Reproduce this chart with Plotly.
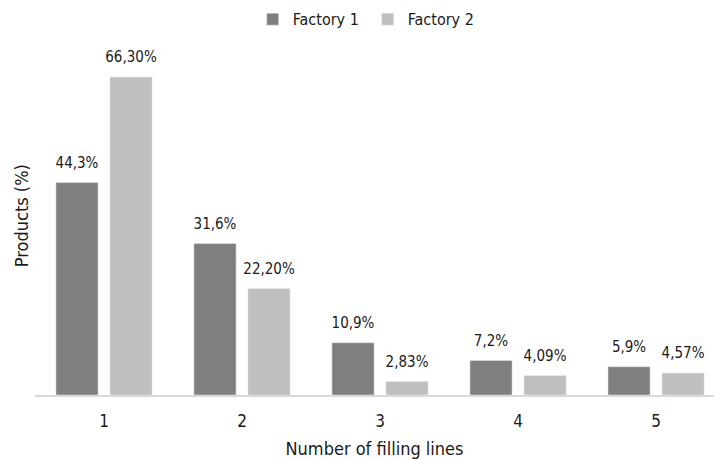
import plotly.graph_objects as go

# Share of products by number of filling lines
categories = ["1", "2", "3", "4", "5"]
factory1 = [44.3, 31.6, 10.9, 7.2, 5.9]
factory2 = [66.30, 22.20, 2.83, 4.09, 4.57]

FONT = "DejaVu Sans Condensed, Liberation Sans Narrow, sans-serif"
TEXT = "#1a1a1a"


def fmt(v, decimals):
    return f"{v:.{decimals}f}".replace(".", ",") + "%"


x_pos = list(range(1, len(categories) + 1))
series = [
    ("Factory 1", factory1, "#7f7f7f", 1),
    ("Factory 2", factory2, "#bfbfbf", 2),
]

fig = go.Figure()
for name, vals, color, dec in series:
    fig.add_trace(go.Bar(
        name=name, x=x_pos, y=vals, marker_color=color,
        offsetgroup=name, alignmentgroup="g",
    ))
for name, vals, color, dec in series:
    # value labels placed above each bar, aligned with its group slot
    fig.add_trace(go.Scatter(
        x=x_pos, y=vals, mode="markers+text",
        marker=dict(size=16, opacity=0),
        text=[fmt(v, dec) for v in vals], textposition="top center",
        textfont=dict(size=15, color=TEXT),
        offsetgroup=name, alignmentgroup="g",
        showlegend=False, hoverinfo="skip", cliponaxis=False,
    ))

fig.update_layout(
    width=714, height=459,
    margin=dict(l=35, r=0, t=30, b=64),
    paper_bgcolor="white", plot_bgcolor="white",
    font=dict(family=FONT, size=16, color=TEXT),
    barmode="group", bargap=0.217, bargroupgap=0.22,
    scattermode="group", scattergap=0.217,
    showlegend=True,
    legend=dict(orientation="h", x=0.49, xanchor="center", y=0.995, yanchor="top",
                yref="container", font=dict(size=16), traceorder="normal",
                entrywidth=70, entrywidthmode="pixels"),
    xaxis=dict(
        tickmode="array", tickvals=x_pos, ticktext=categories,
        range=[0.5, 5.42], showgrid=False, zeroline=False,
        showline=True, linecolor="#d9d9d9", linewidth=2,
        ticks="", tickfont=dict(size=17), ticklabelstandoff=10,
        title=dict(text="Number of filling lines", font=dict(size=18), standoff=16),
        automargin=False,
    ),
    yaxis=dict(
        range=[0, 74.8], showgrid=False, zeroline=False, showticklabels=False,
        showline=False, ticks="",
        title=dict(text="Products (%)", font=dict(size=18), standoff=0),
        automargin=False,
    ),
)

fig.write_html("out.html")
